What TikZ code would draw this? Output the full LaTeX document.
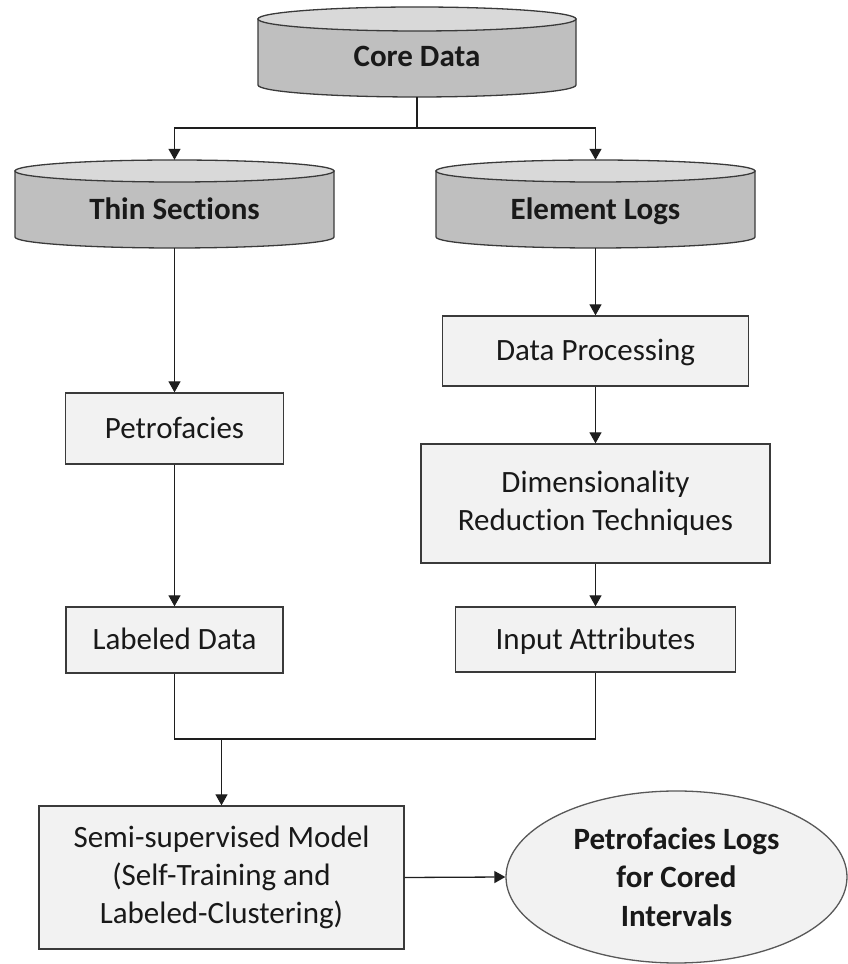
\documentclass[tikz,border=0pt]{standalone}
\usepackage{fontspec}
\setmainfont{Carlito}[Ligatures={NoCommon,NoRequired,NoContextual}, Contextuals=NoAlternate]
\usetikzlibrary{arrows.meta,shapes.geometric}

\definecolor{drumbody}{HTML}{BFBFBF}
\definecolor{drumtop}{HTML}{D9D9D9}
\definecolor{boxfill}{HTML}{F2F2F2}
\definecolor{edge}{HTML}{3A3A3A}
\definecolor{inkline}{HTML}{1E1E1E}

% Data drum: #1 centre x, #2 half width, #3 top y, #4 bottom y, #5 rim radius
\newcommand\drawdrum[5]{%
  \filldraw[fill=drumbody, draw=edge, line width=1.3pt]
    (#1-#2,#3-#5) -- (#1-#2,#4+#5)
    arc[start angle=180, end angle=360, x radius=#2pt, y radius=#5pt]
    -- (#1+#2,#3-#5) -- cycle;
  \filldraw[fill=drumtop, draw=edge, line width=1.3pt]
    (#1,#3-#5) ellipse[x radius=#2pt, y radius=#5pt];
}

\begin{document}
\begin{tikzpicture}[x=1pt, y=1pt,
  every node/.style={font=\fontsize{31}{38}\selectfont, text=black!90},
  drumframe/.style={draw=none, inner sep=0pt},
  drumlabel/.style={font=\fontsize{31}{38}\selectfont\bfseries, inner sep=0pt},
  stepbox/.style={draw=edge, line width=1.3pt, fill=boxfill, inner sep=0pt,
    text height=20pt, text depth=0pt},
  multibox/.style={draw=edge, line width=1.3pt, fill=boxfill, inner sep=0pt,
    align=center},
  link/.style={draw=inkline, line width=1.3pt},
  flow/.style={link, -{Triangle[length=11pt, width=12pt]}}
]
\useasboundingbox (0,0) rectangle (848,964);

% data sources
\drawdrum{417}{159}{957}{867}{12}
\drawdrum{174.5}{159.5}{804}{716}{11}
\drawdrum{595.5}{159.5}{804}{716}{11}

\node[drumframe, minimum width=318pt, minimum height=90pt] (core) at (417,912) {};
\node[drumframe, minimum width=319pt, minimum height=88pt] (thin) at (174.5,760) {};
\node[drumframe, minimum width=319pt, minimum height=88pt] (elem) at (595.5,760) {};

\node[drumlabel, anchor=base] (coreLabel) at (417,897) {Core Data};
\node[drumlabel, anchor=base] (thinLabel) at (174.5,744) {Thin Sections};
\node[drumlabel, anchor=base] (elemLabel) at (595.5,744) {Element Logs};

% processing steps
\node[stepbox, minimum width=218pt, minimum height=71pt] (petro) at (174.5,535.5) {Petrofacies};
\node[stepbox, minimum width=217pt, minimum height=66pt] (labeled) at (174.5,324) {Labeled Data};
\node[stepbox, minimum width=306pt, minimum height=70pt] (proc) at (595.5,613) {Data Processing};
\node[multibox, minimum width=349pt, minimum height=119pt] (dimred) at (595.5,460.5)
  {Dimensionality\\Reduct\kern0pt ion Techniques};
\node[stepbox, minimum width=280pt, minimum height=65pt] (attr) at (595.5,324.5) {Input Attributes};
\node[multibox, minimum width=365pt, minimum height=143pt] (semi) at (221.5,86.5)
  {Semi-supervised Model\\(Self-Training and\\Labeled-Clustering)};
\node[ellipse, draw=edge!85, fill=boxfill, line width=1.3pt, inner sep=0pt,
  minimum width=341pt, minimum height=172pt, align=center,
  font=\fontsize{31}{38.5}\selectfont\bfseries] (logs) at (676.5,87)
  {Petrofacies Logs\\for Cored\\Intervals};

% connectors
\coordinate (split) at (417,836);
\draw[link] (core.south) -- (split);
\draw[flow] (split) -| (thin.north);
\draw[flow] (split) -| (elem.north);

\draw[flow] (thin.south) -- (petro.north);
\draw[flow] (petro.south) -- (labeled.north);

\draw[flow] (elem.south) -- (proc.north);
\draw[flow] (proc.south) -- (dimred.north);
\draw[flow] (dimred.south) -- (attr.north);

\coordinate (joinY) at (0,225);
\draw[link] (labeled.south) |- (attr.south |- joinY) -- (attr.south);
\draw[flow] (semi.north |- joinY) -- (semi.north);

\draw[flow] (semi.east) -- (logs.west);
\end{tikzpicture}
\end{document}
